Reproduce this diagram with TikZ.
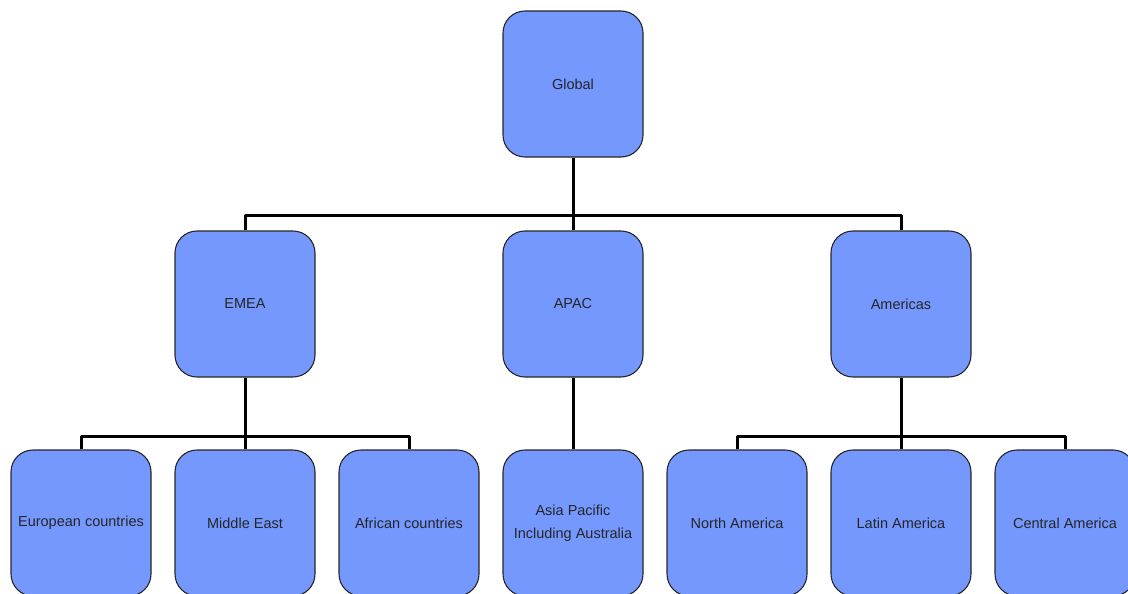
\documentclass[tikz,border=0pt]{standalone}
\usepackage{fontspec}
\setmainfont{Liberation Sans}
\definecolor{boxblue}{RGB}{117,152,255}

\begin{document}
\begin{tikzpicture}[x=1pt,y=-1pt, font=\fontsize{14.5}{23}\selectfont, line join=round,
	unit/.style={draw=black!85, line width=1.1pt, fill=boxblue, text=black!85, rounded corners=22pt,
		minimum width=140pt, minimum height=146pt, inner sep=1pt, align=center},
	link/.style={line width=3pt}]
	\useasboundingbox (0,0) rectangle (1128,594);
	\clip (0,0) rectangle (1128,594);
	\def\ytop{84} \def\ymid{304} \def\ylow{523}
	% top and regions
	\node[unit] (global) at (573,\ytop) {Global};
	\node[unit] (emea) at (245,\ymid) {EMEA};
	\node[unit] (apac) at (573,\ymid) {APAC};
	\node[unit] (americas) at (901,\ymid) {Americas};
	% countries
	\node[unit] (europe) at (81,\ylow) {European countries};
	\node[unit] (mideast) at (245,\ylow) {Middle East};
	\node[unit] (africa) at (409,\ylow) {African countries};
	\node[unit] (asiapac) at (573,\ylow) {Asia Pacific\\Including Australia};
	\node[unit] (northam) at (737,\ylow) {North America};
	\node[unit] (latinam) at (901,\ylow) {Latin America};
	\node[unit] (centralam) at (1065,\ylow) {Central America};
	% buses
	\coordinate (busa) at (573,215);
	\coordinate (busb) at (245,436);
	\coordinate (busc) at (901,436);
	\draw[link] (global.south)--(busa) (busa)--(apac.north);
	\draw[link] (emea.north) |- (busa) -| (americas.north);
	\draw[link] (emea.south)--(busb) (busb)--(mideast.north);
	\draw[link] (europe.north) |- (busb) -| (africa.north);
	\draw[link] (apac.south)--(asiapac.north);
	\draw[link] (americas.south)--(busc) (busc)--(latinam.north);
	\draw[link] (northam.north) |- (busc) -| (centralam.north);
\end{tikzpicture}
\end{document}
